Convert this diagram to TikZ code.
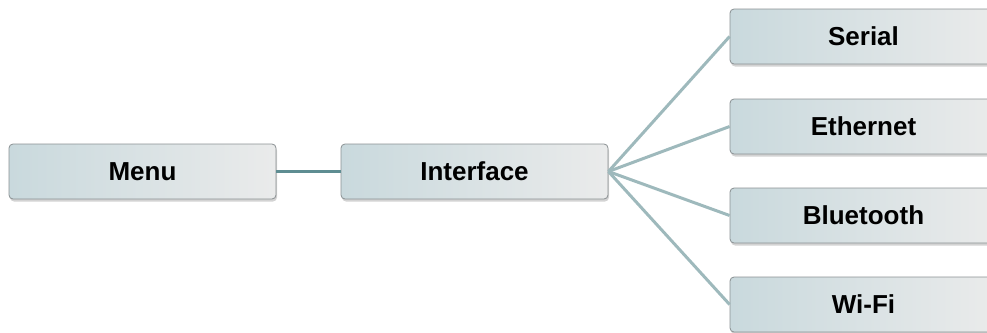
\documentclass[tikz,border=0pt]{standalone}
\usepackage{fontspec}
\setmainfont{Liberation Sans}
\usetikzlibrary{shadows,positioning}
\definecolor{boxleft}{HTML}{C9D9DD}
\definecolor{boxright}{HTML}{EAEBEB}
\definecolor{boxline}{HTML}{8A9092}
\definecolor{trunk}{HTML}{5E8D92}
\definecolor{branch}{HTML}{9EB9BC}

\begin{document}
\begin{tikzpicture}[x=1pt,y=1pt,
every node/.style={rectangle,rounded corners=4pt,draw=boxline,line width=.8pt,
left color=boxleft,right color=boxright,
minimum width=267pt,minimum height=55pt,
font=\fontsize{26}{30}\selectfont\bfseries,
drop shadow={shadow xshift=1pt,shadow yshift=-2.5pt,opacity=.35}}]
\useasboundingbox (0,0) rectangle (987,-332);
\node (M) at (142.5,-171.5) {Menu};
\node (I) at (474.5,-171.5) {Interface};
\node (S) at (863.5,-36.5) {Serial};
\node (E) at (863.5,-126.5) {Ethernet};
\node (B) at (863.5,-215.5) {Bluetooth};
\node (W) at (863.5,-304.5) {Wi-Fi};
\draw[trunk,line width=3pt] (M.east)--(I.west);
\draw[branch,line width=3pt] (I.east)--(S.west);
\draw[branch,line width=3pt] (I.east)--(E.west);
\draw[branch,line width=3pt] (I.east)--(B.west);
\draw[branch,line width=3pt] (I.east)--(W.west);
\end{tikzpicture}
\end{document}
